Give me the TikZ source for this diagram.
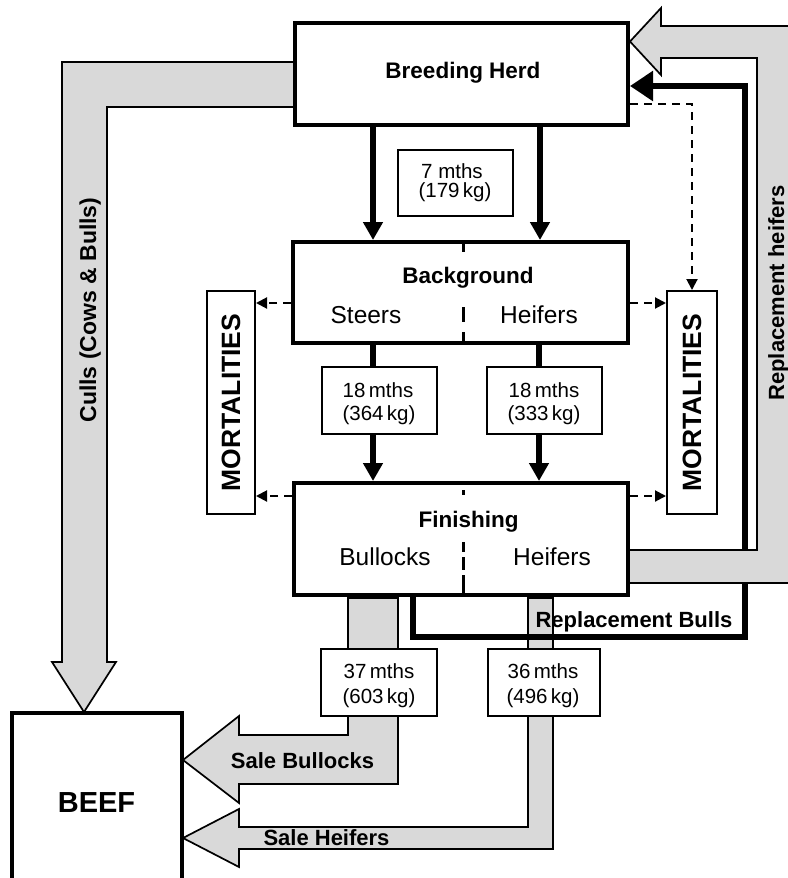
\documentclass[tikz,border=0pt]{standalone}
\usepackage{fontspec}
\setmainfont{Liberation Sans}
\usetikzlibrary{arrows.meta}
\definecolor{bandgray}{RGB}{217,217,217}
\newcommand\setfs[1]{\fontsize{#1pt}{#1pt}\selectfont}
\pgfdeclarelayer{under}
\pgfsetlayers{under,main}

\tikzset{
  stage/.style={draw, fill=white, line width=4pt, inner sep=0pt},
  agebox/.style={draw, fill=white, line width=2pt, inner sep=0pt, minimum width=115pt, minimum height=67pt},
  mortbox/.style={draw, fill=white, line width=2pt, inner sep=0pt, minimum width=49pt, minimum height=223pt},
  band/.style={draw, fill=bandgray, line width=1.7pt, line join=miter},
  flow/.style={line width=6pt, -{Triangle[length=18pt,width=19pt]}},
  loss/.style={line width=2pt, dash pattern=on 8pt off 6pt, -{Triangle[length=11pt,width=11pt]}},
  bullflow/.style={line width=5.5pt, line join=miter, -{Triangle[length=23pt,width=29pt]}},
  divider/.style={line width=3pt},
  lbl/.style={inner sep=0pt, anchor=base},
  stagefont/.style={font=\bfseries\setfs{22.5}},
  subfont/.style={font=\setfs{24.5}},
  agefont/.style={font=\setfs{20.5}},
  flowfont/.style={font=\bfseries\setfs{22}},
  mortfont/.style={font=\bfseries\setfs{26.5}},
}

\begin{document}
\begin{tikzpicture}[x=1pt,y=-1pt]
\useasboundingbox (0,0) rectangle (787,878);
\clip (0,0) rectangle (787,878);

% production stages and the beef outlet
\node[stage, minimum width=333pt, minimum height=102pt] (herd) at (461.5,74) {};
\node[stage, minimum width=335pt, minimum height=101pt] (bg) at (460.5,292.5) {};
\node[stage, minimum width=334pt, minimum height=112pt] (fin) at (461,539) {};
\node[stage, minimum width=170pt, minimum height=210pt] (beef) at (97,818) {};

% age and weight boxes
\node[agebox, minimum height=66pt] (age7) at (455.5,183) {};
\node[agebox] (age18s) at (379.5,400.5) {};
\node[agebox] (age18h) at (544.5,400.5) {};
\node[agebox, minimum width=116pt] (age37) at (379,682.5) {};
\node[agebox, minimum width=112pt] (age36) at (544,682.5) {};

% mortality sinks
\node[mortbox, minimum width=48pt] (mortL) at (231,402.5) {};
\node[mortbox, minimum width=50pt] (mortR) at (692,402.5) {};

% steer / heifer split inside the stages
\draw[divider] (463,242) -- (463,252) (463,307) -- (463,322) (463,332) -- (463,343);
\draw[divider] (463,490) -- (463,495) (463,542) -- (463,552) (463,557) -- (463,570) (463,575) -- (463,595);

% stage texts
\node[lbl, stagefont] (herdtxt) at (463,78) {Breeding Herd};
\node[lbl, stagefont] (bgtxt) at (468,283) {Background};
\node[lbl, subfont] (steers) at (366,323) {Steers};
\node[lbl, subfont] (bgheif) at (539,323) {Heifers};
\node[lbl, stagefont] (fintxt) at (468.5,527) {Finishing};
\node[lbl, subfont] (bullocks) at (385,565) {Bullocks};
\node[lbl, subfont] (finheif) at (552,565) {Heifers};
\node[lbl, font=\bfseries\setfs{29}] (beeftxt) at (96.5,812) {BEEF};

% ages and weights
\node[lbl, agefont] (a7a) at (452,178) {7 mths};
\node[lbl, agefont] (a7b) at (455,197) {(179\,kg)};
\node[lbl, agefont] (a18sa) at (378,397) {18\,mths};
\node[lbl, agefont] (a18sb) at (379,420) {(364\,kg)};
\node[lbl, agefont] (a18ha) at (544,397) {18\,mths};
\node[lbl, agefont] (a18hb) at (544,420) {(333\,kg)};
\node[lbl, agefont] (a37a) at (379,678) {37\,mths};
\node[lbl, agefont] (a37b) at (379,703) {(603\,kg)};
\node[lbl, agefont] (a36a) at (543,678) {36\,mths};
\node[lbl, agefont] (a36b) at (543,703) {(496\,kg)};

\node[mortfont, inner sep=0pt, rotate=90] (mortLtxt) at (mortL) {MORTALITIES};
\node[mortfont, inner sep=0pt, rotate=90] (mortRtxt) at (mortR) {MORTALITIES};

% flow labels
\node[lbl, flowfont] (salebul) at (302.5,768) {Sale Bullocks};
\node[lbl, flowfont] (saleheif) at (326.5,845) {Sale Heifers};
\node[lbl, flowfont] (replbull) at (634,627) {Replacement Bulls};
\node[lbl, font=\bfseries\setfs{23}, rotate=90] (culls) at (96,310) {Culls (Cows \& Bulls)};
\node[lbl, flowfont, rotate=90] (replheif) at (784,293) {Replacement heifers};

\begin{pgfonlayer}{under}
  % broad flow bands
  \draw[band] (295,62) -- (62,62) -- (62,662) -- (52,662) -- (84,712) -- (116,662)
     -- (107,662) -- (107,107) -- (295,107) -- cycle;
  \draw[band] (348,598) -- (398,598) -- (398,784) -- (239,784) -- (239,803) -- (183,760)
     -- (239,716) -- (239,735) -- (348,735) -- cycle;
  \draw[band] (528,598) -- (553,598) -- (553,849) -- (239,849) -- (239,867) -- (183,838)
     -- (239,809) -- (239,827) -- (528,827) -- cycle;

  % animal flows between stages
  \coordinate (colL) at (373,0);
  \coordinate (colR) at (540,0);
  \coordinate (colR2) at (539,0);
  \draw[flow] (herd.south -| colL) -- (bg.north -| colL);
  \draw[flow] (herd.south -| colR) -- (bg.north -| colR);
  \draw[flow] (bg.south -| colL) -- (fin.north -| colL);
  \draw[flow] (bg.south -| colR2) -- (fin.north -| colR2);

  % losses
  \coordinate (lbg) at (0,303);
  \coordinate (lfin) at (0,496);
  \coordinate (lherd) at (0,104);
  \draw[loss] (bg.west |- lbg) -- (mortL.east |- lbg);
  \draw[loss] (fin.west |- lfin) -- (mortL.east |- lfin);
  \draw[loss] (bg.east |- lbg) -- (mortR.west |- lbg);
  \draw[loss] (fin.east |- lfin) -- (mortR.west |- lfin);
  \draw[loss] (herd.east |- lherd) -| (mortR.north);

  % replacement bulls back to the herd
  \coordinate (rb1) at (413,637);
  \coordinate (rb2) at (745,637);
  \coordinate (rb3) at (745,86);
  \draw[bullflow] (fin.south -| rb1) -- (rb1) -- (rb2) -- (rb3) -- (herd.east |- rb3);

  % replacement heifers back to the herd
  \draw[band] (628,550) -- (757,550) -- (757,58) -- (661,58) -- (661,75) -- (630,41.5)
     -- (661,8) -- (661,26) -- (795,26) -- (795,583) -- (628,583) -- cycle;
\end{pgfonlayer}
\end{tikzpicture}
\end{document}
